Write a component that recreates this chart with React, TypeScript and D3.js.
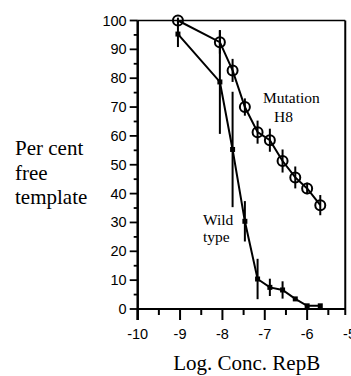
import React from "react";
import * as d3 from "d3";

const logConc = [-9.05, -8.06, -7.76, -7.47, -7.17, -6.88, -6.58, -6.28, -6.0, -5.69];
const mutationH8 = [100, 92.5, 82.7, 70, 61.3, 58.5, 51.3, 45.6, 41.8, 36];
const mutationErr = [1, 4, 4, 3, 4, 4, 4, 3.8, 2, 3.5];
const wildType = [95.3, 78.7, 55.3, 30.4, 10.4, 7.5, 6.6, 3.5, 1.1, 1.1];
const wildErr = [4.5, 18, 20, 7, 7, 3, 3, 0, 0, 0];
const xTicks = [-10, -9, -8, -7, -6, -5];
const xMinorTicks = [-9.5, -8.5, -7.5, -6.5, -5.5];
const yTicks = [0, 10, 20, 30, 40, 50, 60, 70, 80, 90, 100];
const yMinorTicks = [5, 15, 25, 35, 45, 55, 65, 75, 85, 95];

const W = 351;
const H = 376;

export default function App() {
  const x = d3.scaleLinear().domain([-10, -5]).range([137.7, 349.5]);
  const y = d3.scaleLinear().domain([0, 100]).range([309, 20.5]);
  const xEnd = -5.1;
  const sans = "'Liberation Sans', Arial, sans-serif";
  const serif = "'Liberation Serif', 'Times New Roman', serif";

  const line = d3
    .line<[number, number]>()
    .x((d) => x(d[0]))
    .y((d) => y(d[1]));

  const mutPts: [number, number][] = logConc.map((c, i) => [c, mutationH8[i]]);
  const wildPts: [number, number][] = logConc.map((c, i) => [c, wildType[i]]);

  return (
    <svg
      width={W}
      height={H}
      style={{ position: "absolute", left: 0, top: 0, background: "#fff" }}
    >
      <rect x={0} y={0} width={W} height={H} fill="#fff" />
      {/* frame */}
      <line x1={x(-10)} x2={x(xEnd)} y1={y(100)} y2={y(100)} stroke="#000" strokeWidth={1.5} />
      <line x1={x(xEnd)} x2={x(xEnd)} y1={y(100)} y2={y(0)} stroke="#000" strokeWidth={2} />
      {/* y axis */}
      <line x1={x(-10)} x2={x(-10)} y1={y(100)} y2={y(0) + 11} stroke="#000" strokeWidth={2.5} />
      {yTicks.map((t) => (
        <g key={"yt" + t}>
          <line x1={x(-10) - 8} x2={x(-10)} y1={y(t)} y2={y(t)} stroke="#000" strokeWidth={1.8} />
          <text
            x={x(-10) - 11}
            y={y(t)}
            textAnchor="end"
            dominantBaseline="central"
            fontFamily={sans}
            fontSize={14.5}
            fill="#000"
          >
            {t}
          </text>
        </g>
      ))}
      {yMinorTicks.map((t) => (
        <line key={"ym" + t} x1={x(-10) - 4} x2={x(-10)} y1={y(t)} y2={y(t)} stroke="#000" strokeWidth={1.8} />
      ))}
      {/* x axis */}
      <line x1={x(-10)} x2={x(xEnd)} y1={y(0)} y2={y(0)} stroke="#000" strokeWidth={2.2} />
      {xTicks.map((t) => (
        <g key={"xt" + t}>
          {t > xEnd ? null : (
            <line x1={x(t)} x2={x(t)} y1={y(0)} y2={y(0) + 11} stroke="#000" strokeWidth={2} />
          )}
          <text
            x={x(t)}
            y={339}
            textAnchor="middle"
            fontFamily={sans}
            fontSize={14.5}
            fill="#000"
          >
            {t}
          </text>
        </g>
      ))}
      {xMinorTicks.map((t) => (
        <line key={"xm" + t} x1={x(t)} x2={x(t)} y1={y(0)} y2={y(0) + 6} stroke="#000" strokeWidth={2} />
      ))}
      <line x1={x(xEnd)} x2={x(xEnd)} y1={y(0)} y2={y(0) + 6} stroke="#000" strokeWidth={2} />

      {/* wild type */}
      <path d={line(wildPts) || ""} fill="none" stroke="#000" strokeWidth={2} />
      {wildPts.map((p, i) =>
        wildErr[i] > 0 ? (
          <line
            key={"we" + i}
            x1={x(p[0])}
            x2={x(p[0])}
            y1={y(p[1] + wildErr[i])}
            y2={y(p[1] - wildErr[i])}
            stroke="#000"
            strokeWidth={2}
          />
        ) : null
      )}
      {wildPts.map((p, i) => (
        <rect key={"wp" + i} x={x(p[0]) - 2.5} y={y(p[1]) - 2.5} width={5} height={5} fill="#000" />
      ))}

      {/* mutation H8 */}
      <path d={line(mutPts) || ""} fill="none" stroke="#000" strokeWidth={2} />
      {mutPts.map((p, i) => (
        <line
          key={"me" + i}
          x1={x(p[0])}
          x2={x(p[0])}
          y1={y(p[1] + mutationErr[i])}
          y2={y(p[1] - mutationErr[i])}
          stroke="#000"
          strokeWidth={2}
        />
      ))}
      {mutPts.map((p, i) => (
        <circle key={"mp" + i} cx={x(p[0])} cy={y(p[1])} r={5} fill="none" stroke="#000" strokeWidth={2} />
      ))}

      {/* annotations */}
      <text x={263} y={103} fontFamily={serif} fontSize={15.5} fill="#000">
        Mutation
      </text>
      <text x={274} y={122} fontFamily={serif} fontSize={15.5} fill="#000">
        H8
      </text>
      <text x={203} y={225} fontFamily={serif} fontSize={15.5} fill="#000">
        Wild
      </text>
      <text x={203} y={242} fontFamily={serif} fontSize={15.5} fill="#000">
        type
      </text>

      {/* axis titles */}
      <text x={15} y={155} fontFamily={serif} fontSize={21} fill="#000">
        Per cent
      </text>
      <text x={15} y={180} fontFamily={serif} fontSize={21} fill="#000">
        free
      </text>
      <text x={15} y={204} fontFamily={serif} fontSize={21} fill="#000">
        template
      </text>
      <text x={246.7} y={370} textAnchor="middle" fontFamily={serif} fontSize={21} fill="#000">
        Log. Conc. RepB
      </text>
    </svg>
  );
}
